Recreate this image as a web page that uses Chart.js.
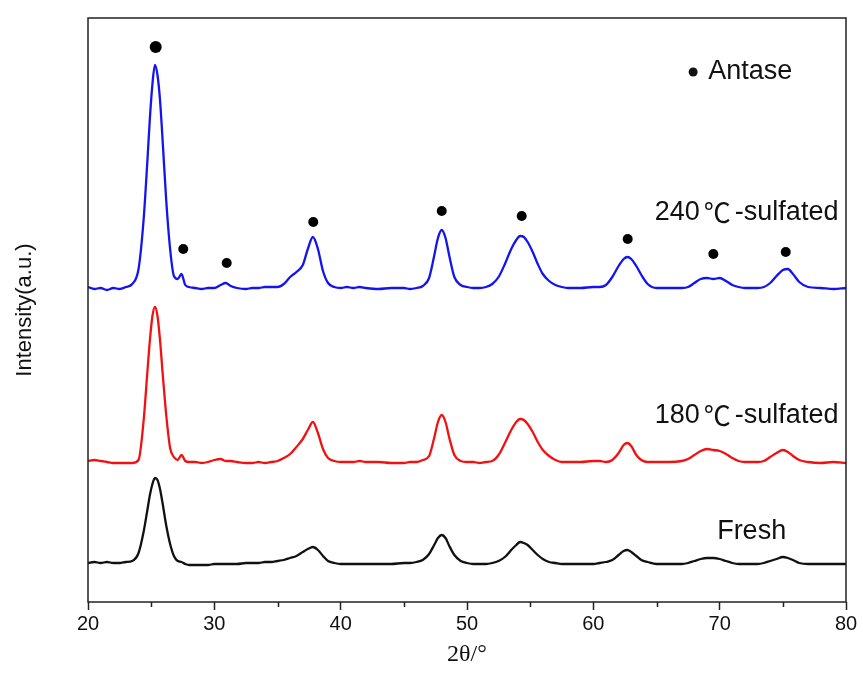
<!DOCTYPE html>
<html>
<head>
<meta charset="utf-8">
<title>XRD patterns</title>
<script src="https://cdn.jsdelivr.net/npm/chart.js@4.4.1/dist/chart.umd.min.js"></script>
<style>
    html, body { margin: 0; padding: 0; background: #fff; }
    canvas { display: block; }
</style>
</head>
<body>
<canvas id="xrdChart" width="863" height="693"></canvas>
<script>
// 2θ sampling points shared by the three patterns
const angles = [
    20, 20.5, 21, 21.5, 22, 22.5, 23, 23.5, 24, 24.4,
    24.7, 24.9, 25.1, 25.3, 25.5, 25.7, 25.9, 26.2, 26.5, 26.8,
    27.1, 27.4, 27.7, 28.0, 28.5, 29, 29.5, 30, 30.5, 30.9,
    31.3, 31.8, 32.5, 33, 33.5, 34, 34.5, 35, 35.5, 36,
    36.5, 37, 37.4, 37.8, 38.2, 38.6, 39, 39.5, 40, 40.5,
    41, 41.5, 42, 43, 44, 45, 45.5, 46, 46.5, 47,
    47.4, 47.7, 48.0, 48.3, 48.6, 49, 49.5, 50, 50.5, 51,
    51.5, 52, 52.5, 53, 53.5, 53.9, 54.2, 54.5, 54.8, 55.2,
    55.6, 56, 56.5, 57, 57.5, 58, 59, 60, 60.5, 61,
    61.5, 62, 62.4, 62.7, 63, 63.4, 63.8, 64.3, 65, 66,
    67, 67.5, 68, 68.5, 69, 69.5, 70, 70.5, 71, 71.5,
    72, 73, 73.5, 74, 74.5, 75.0, 75.4, 75.8, 76.3, 77,
    78, 79, 80
];

// intensities above each pattern's own baseline (a.u.)
const fresh = [
    1, 2, 1, 2, 1, 1, 2, 3, 11, 32,
    54, 69, 80, 86, 84, 75, 61, 38, 20, 8,
    3, 2, 0, -1, -1, -1, -1, 0, 0, 0,
    0, 0, 1, 1, 1, 2, 2, 3, 4, 6,
    8, 12, 15, 17, 14, 8, 3, 1, 0, 0,
    0, 0, 0, 0, 0, 1, 1, 2, 4, 10,
    19, 26, 29, 26, 18, 9, 3, 1, 0, 0,
    0, 1, 3, 7, 14, 19, 22, 21, 19, 14,
    9, 5, 2, 1, 0, 0, 0, 0, 1, 2,
    4, 9, 13, 14, 12, 8, 4, 2, 0, 0,
    0, 1, 3, 5, 6, 6, 5, 3, 1, 0,
    0, 0, 1, 3, 5, 7, 6, 4, 1, 0,
    0, 0, 0
];

const sulfated180 = [
    2, 3, 2, 1, 0, 0, 0, 0, 3, 42,
    91, 123, 147, 156, 147, 123, 91, 47, 15, 6,
    3, 8, 2, 1, 1, 0, 1, 3, 4, 2,
    2, 1, 0, 0, 1, 0, 1, 2, 5, 9,
    16, 24, 33, 41, 30, 14, 5, 2, 1, 1,
    1, 2, 1, 1, 0, 0, 1, 1, 3, 7,
    25, 41, 48, 41, 25, 8, 2, 1, 1, 0,
    1, 2, 8, 20, 33, 41, 44, 43, 39, 31,
    21, 13, 7, 3, 1, 1, 1, 2, 2, 1,
    3, 10, 18, 20, 17, 8, 3, 1, 1, 1,
    2, 4, 8, 12, 14, 13, 12, 9, 5, 2,
    1, 1, 2, 6, 10, 13, 11, 7, 3, 1,
    0, 1, 0
];

const sulfated240 = [
    2, 0, 1, -1, 1, 0, 2, 5, 20, 69,
    128, 171, 205, 224, 214, 189, 150, 87, 40, 13,
    10, 15, 4, 2, 1, 0, 1, 1, 4, 6,
    3, 1, 0, 1, 1, 2, 2, 2, 5, 12,
    17, 24, 40, 52, 40, 18, 6, 2, 1, 2,
    1, 2, 1, 0, 1, 1, 0, 1, 3, 11,
    33, 51, 59, 51, 33, 12, 4, 2, 1, 1,
    2, 5, 12, 25, 40, 49, 53, 52, 47, 37,
    25, 15, 8, 4, 2, 1, 1, 2, 2, 4,
    12, 23, 30, 32, 30, 23, 14, 5, 1, 1,
    1, 2, 6, 10, 11, 10, 11, 8, 4, 2,
    1, 1, 2, 6, 13, 19, 20, 15, 7, 2,
    1, 0, 1
];

// vertical stacking shift: fresh, 180℃, 240℃
const stackShift = [0, 101, 275];

// anatase reflections marked with dots
const antaseAngles = [25.36, 27.54, 30.98, 37.83, 48.0, 54.33, 62.72, 69.5, 75.23];
const antaseLevels = [517, 315, 301, 342, 353, 348, 325, 310, 312];

const majorTicks = [20, 30, 40, 50, 60, 70, 80];
const minorTicks = [25, 35, 45, 55, 65, 75];

const sansFont = '"Liberation Sans", Arial, sans-serif';
const cjkFont = '"Noto Sans CJK SC", sans-serif';
const frameColor = '#222';

function toPoints(values, shift) {
    return angles.map((a, i) => ({ x: a, y: values[i] + shift }));
}

// text annotations, placed in data units
const notes = [
    { text: '240℃-sulfated', x: 79.4, y: 351, align: 'right' },
    { text: '180℃-sulfated', x: 79.4, y: 148, align: 'right' },
    { text: 'Fresh', x: 69.8, y: 32, align: 'left' },
    { text: 'Antase', x: 69.1, y: 492, align: 'left' }
];
const legendDot = { x: 67.9, y: 492 };

// draws a string left to right, putting ℃ in the CJK face with a little air around it
function drawNote(ctx, note, px, py) {
    const size = 27;
    const gap = 4;
    const parts = note.text.split(/(℃)/).filter(s => s.length);
    const fontFor = s => size + 'px ' + (s === '℃' ? cjkFont : sansFont);
    const advance = s => {
        ctx.font = fontFor(s);
        return ctx.measureText(s).width + (s === '℃' ? 2 * gap : 0);
    };
    const width = parts.reduce((w, s) => w + advance(s), 0);
    let x = note.align === 'right' ? px - width : px;
    ctx.textAlign = 'left';
    parts.forEach(s => {
        const w = advance(s);
        ctx.fillText(s, x + (s === '℃' ? gap : 0), py);
        x += w;
    });
}

const framePlugin = {
    id: 'frame',
    afterDraw(chart) {
        const { ctx, chartArea: a, scales } = chart;
        ctx.save();
        ctx.strokeStyle = frameColor;
        ctx.lineWidth = 1.5;
        ctx.strokeRect(a.left, a.top, a.right - a.left, a.bottom - a.top);
        // short minor ticks between the labelled ones
        ctx.beginPath();
        minorTicks.forEach(v => {
            const px = Math.round(scales.x.getPixelForValue(v)) + 0.5;
            ctx.moveTo(px, a.bottom);
            ctx.lineTo(px, a.bottom + 5);
        });
        ctx.stroke();

        ctx.fillStyle = '#111';
        ctx.textBaseline = 'middle';
        notes.forEach(n => {
            drawNote(ctx, n, scales.x.getPixelForValue(n.x), scales.y.getPixelForValue(n.y));
        });
        ctx.beginPath();
        ctx.arc(scales.x.getPixelForValue(legendDot.x), scales.y.getPixelForValue(legendDot.y), 4.5, 0, Math.PI * 2);
        ctx.fill();
        ctx.restore();
    }
};

const lineStyle = {
    showLine: true,
    pointRadius: 0,
    borderWidth: 2.3,
    cubicInterpolationMode: 'monotone'
};

new Chart(document.getElementById('xrdChart'), {
    type: 'scatter',
    data: {
        datasets: [
            Object.assign({ label: 'Fresh', data: toPoints(fresh, stackShift[0]), borderColor: '#111' }, lineStyle),
            Object.assign({ label: '180℃-sulfated', data: toPoints(sulfated180, stackShift[1]), borderColor: '#f01212' }, lineStyle),
            Object.assign({ label: '240℃-sulfated', data: toPoints(sulfated240, stackShift[2]), borderColor: '#1414ee' }, lineStyle),
            {
                label: 'Antase',
                data: antaseAngles.map((a, i) => ({ x: a, y: antaseLevels[i] })),
                pointRadius: ctx => ctx.dataIndex === 0 ? 6 : 5,
                pointBackgroundColor: '#000',
                pointBorderWidth: 0,
                showLine: false
            }
        ]
    },
    options: {
        responsive: false,
        animation: false,
        layout: { padding: { top: 18, right: 17, left: 0, bottom: 0 } },
        plugins: {
            legend: { display: false },
            tooltip: { enabled: false }
        },
        scales: {
            x: {
                type: 'linear',
                min: 20,
                max: 80,
                afterBuildTicks: axis => { axis.ticks = majorTicks.map(v => ({ value: v })); },
                afterFit: axis => { axis.height = 91; },
                border: { display: false },
                grid: {
                    drawOnChartArea: false,
                    drawTicks: true,
                    tickLength: 8,
                    tickWidth: 1.5,
                    tickColor: frameColor
                },
                ticks: {
                    color: '#111',
                    padding: 2,
                    maxRotation: 0,
                    font: { family: '"Liberation Sans Narrow", "Liberation Sans", Arial, sans-serif', size: 20 }
                },
                title: {
                    display: true,
                    text: '2θ/°',
                    color: '#111',
                    padding: { bottom: 24 },
                    font: { family: '"Liberation Serif", "Times New Roman", serif', size: 24 }
                }
            },
            y: {
                min: -38,
                max: 546,
                afterFit: axis => { axis.width = 88; },
                border: { display: false },
                grid: { display: false },
                ticks: { display: false },
                title: {
                    display: true,
                    text: 'Intensity(a.u.)',
                    color: '#111',
                    padding: { top: 12 },
                    font: { family: sansFont, size: 22 }
                }
            }
        }
    },
    plugins: [framePlugin]
});
</script>
</body>
</html>
